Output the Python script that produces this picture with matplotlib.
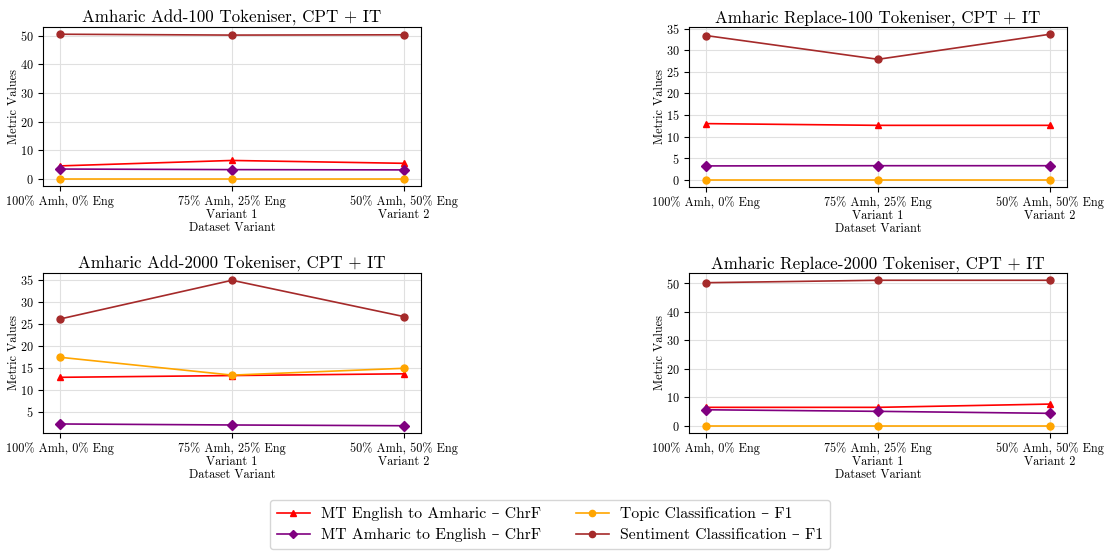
import matplotlib
matplotlib.use("Agg")
import matplotlib.pyplot as plt
from matplotlib.ticker import MaxNLocator

plt.rcParams["font.family"] = ["cmr10", "DejaVu Serif"]
plt.rcParams["mathtext.fontset"] = "cm"
plt.rcParams["axes.formatter.use_mathtext"] = True
plt.rcParams["axes.unicode_minus"] = False

variants = ["100% Amh, 0% Eng", "75% Amh, 25% Eng\nVariant 1", "50% Amh, 50% Eng\nVariant 2"]

titles = [
    "Amharic Add-100 Tokeniser, CPT + IT",
    "Amharic Replace-100 Tokeniser, CPT + IT",
    "Amharic Add-2000 Tokeniser, CPT + IT",
    "Amharic Replace-2000 Tokeniser, CPT + IT",
]

series_names = [
    "MT English to Amharic – ChrF",
    "MT Amharic to English – ChrF",
    "Topic Classification – F1",
    "Sentiment Classification – F1",
]

# values per panel: [en->am, am->en, topic, sentiment]
add_100 = [[4.5, 6.4, 5.4], [3.4, 3.2, 3.1], [0.0, 0.0, 0.0], [50.5, 50.2, 50.3]]
replace_100 = [[13.0, 12.6, 12.6], [3.2, 3.25, 3.25], [0.0, 0.0, 0.0], [33.4, 27.9, 33.7]]
add_2000 = [[12.8, 13.2, 13.6], [2.2, 1.97, 1.8], [17.35, 13.3, 14.85], [26.06, 34.85, 26.6]]
replace_2000 = [[6.45, 6.45, 7.6], [5.6, 5.05, 4.35], [0.0, 0.0, 0.0], [50.2, 51.05, 51.05]]

panels = [add_100, replace_100, add_2000, replace_2000]

colors = ["red", "purple", "orange", "brown"]
markers = ["^", "D", "o", "o"]

fig = plt.figure(figsize=(11.05, 5.51), dpi=100)
W, H = 1105, 551
boxes = [(43, 27, 421, 186), (689, 27, 1067, 187), (43, 273, 421, 433), (689, 273, 1067, 433)]

handles = []
for idx, (box, title, data) in enumerate(zip(boxes, titles, panels)):
    x0, y0, x1, y1 = box
    ax = fig.add_axes([x0 / W, 1 - y1 / H, (x1 - x0) / W, (y1 - y0) / H])
    xs = list(range(len(variants)))
    for vals, c, m, name in zip(data, colors, markers, series_names):
        (ln,) = ax.plot(xs, vals, color=c, marker=m, markersize=5, linewidth=1.2, label=name)
        if idx == 0:
            handles.append(ln)
    ax.set_xticks(xs)
    ax.set_xticklabels(variants, fontsize=8.8, linespacing=1.1)
    ax.yaxis.set_major_locator(MaxNLocator(nbins=8, steps=[1, 2, 5, 10]))
    ax.tick_params(axis="y", labelsize=8.8)
    ax.set_title(title, fontsize=12.2, pad=3)
    ax.set_xlabel("Dataset Variant", fontsize=8.8, labelpad=0)
    ax.set_ylabel("Metric Values", fontsize=8.8, labelpad=0)
    ax.grid(True, color="#e0e0e0", linewidth=0.8)
    ax.set_axisbelow(True)

fig.legend(handles=handles, labels=series_names, loc="lower center", ncol=2,
           bbox_to_anchor=(0.4975, 0.0), fontsize=11.3, frameon=True,
           edgecolor="#cccccc", fancybox=True, columnspacing=2.25,
           borderpad=0.45, handlelength=2.1, handletextpad=0.7,
           labelspacing=0.45, borderaxespad=0.1, markerscale=0.9)

fig.savefig("out.png", dpi=100)
